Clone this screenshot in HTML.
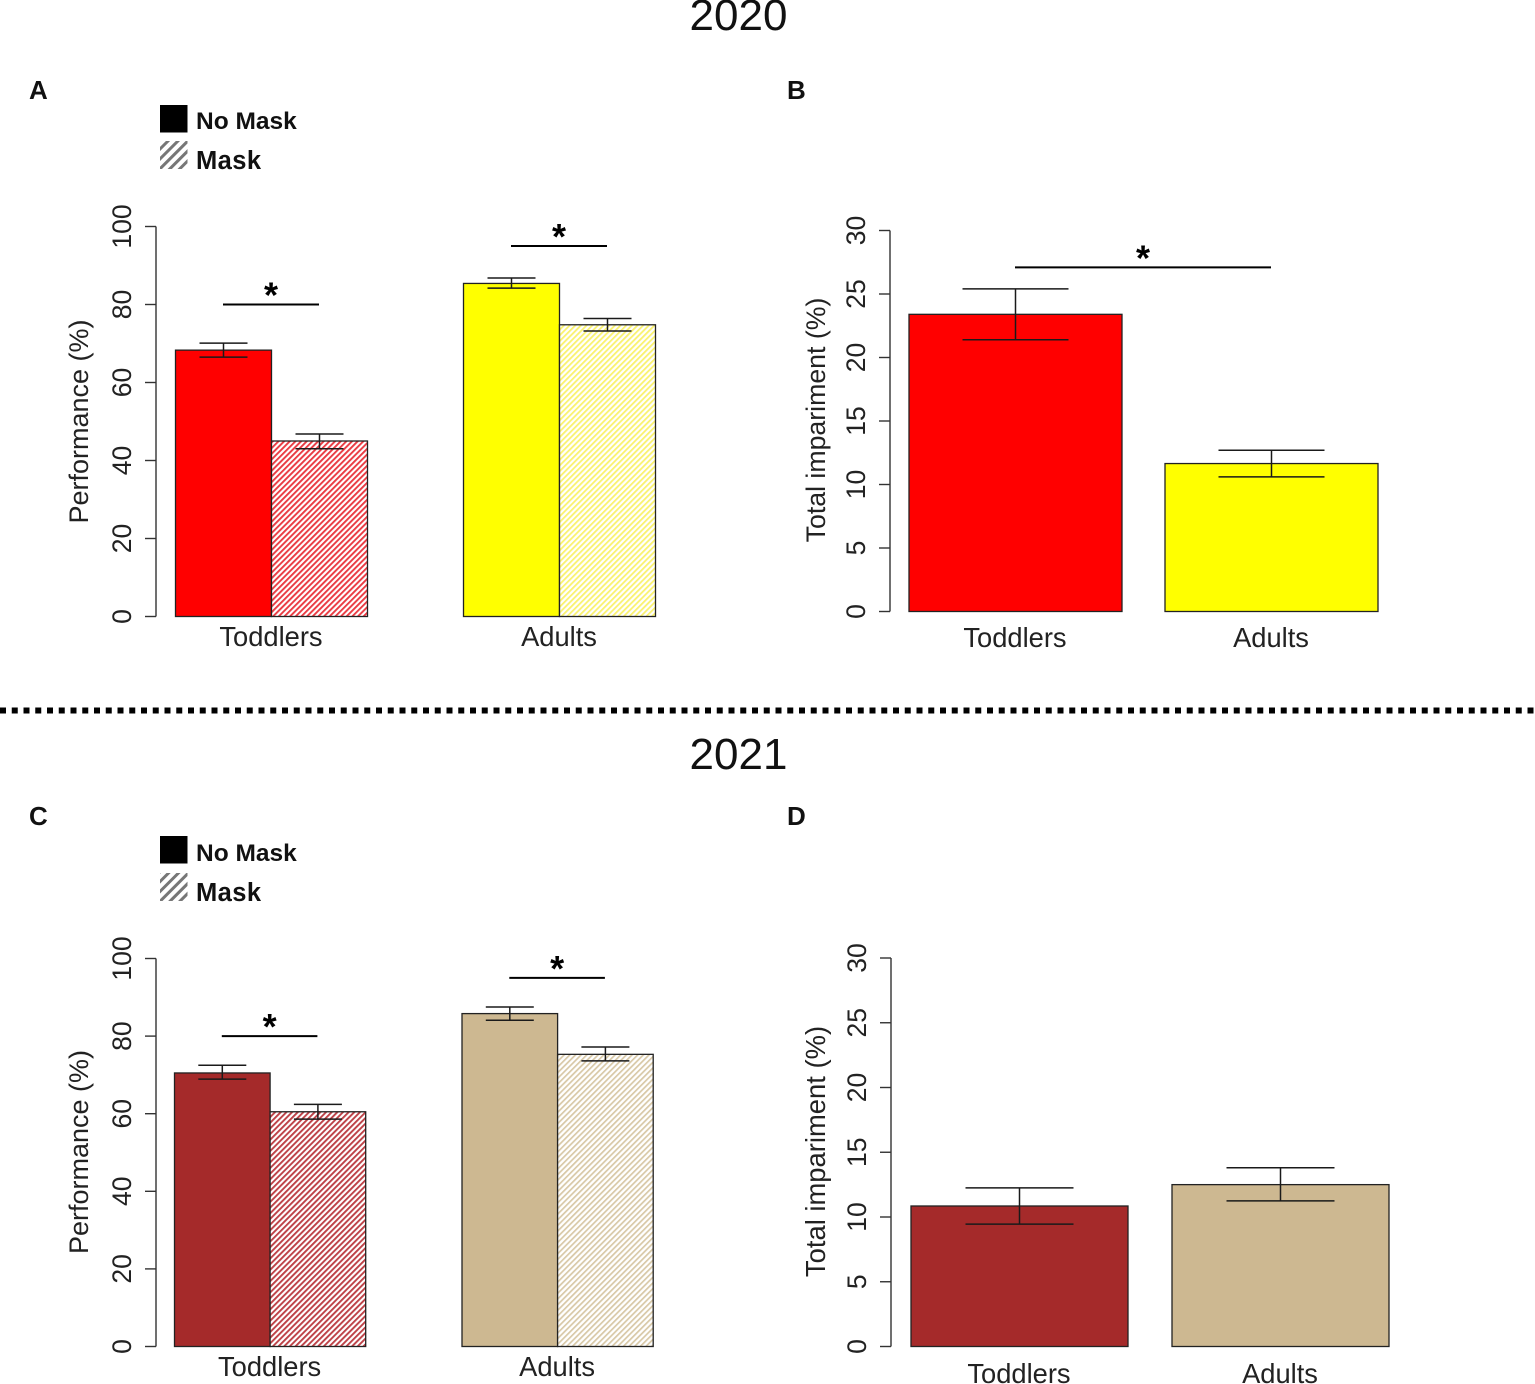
<!DOCTYPE html>
<html>
<head>
<meta charset="utf-8">
<title>Performance and total impairment, 2020 and 2021</title>
<style>
html,body{margin:0;padding:0;background:#fff;}
svg{display:block;font-family:"Liberation Sans",sans-serif;}
</style>
</head>
<body>
<svg id="fig" xmlns="http://www.w3.org/2000/svg" width="1535" height="1384" viewBox="0 0 1535 1384">
  <defs>
    <pattern id="hatch-red" patternUnits="userSpaceOnUse" width="4" height="4" patternTransform="rotate(45)"><rect width="4" height="4" fill="#fff"/><rect width="1.9" height="4" fill="#ea3a42"/></pattern>
    <pattern id="hatch-yellow" patternUnits="userSpaceOnUse" width="4" height="4" patternTransform="rotate(45)"><rect width="4" height="4" fill="#fff"/><rect width="1.8" height="4" fill="#faf26e"/></pattern>
    <pattern id="hatch-brown" patternUnits="userSpaceOnUse" width="4" height="4" patternTransform="rotate(45)"><rect width="4" height="4" fill="#fff"/><rect width="1.9" height="4" fill="#bd4046"/></pattern>
    <pattern id="hatch-tan" patternUnits="userSpaceOnUse" width="4" height="4" patternTransform="rotate(45)"><rect width="4" height="4" fill="#fff"/><rect width="1.7" height="4" fill="#d8c8a6"/></pattern>
    <pattern id="hatch-grey" patternUnits="userSpaceOnUse" width="7" height="7" patternTransform="rotate(45)"><rect width="7" height="7" fill="#fff"/><rect width="3" height="7" fill="#777"/></pattern>
  </defs>

  <text x="738.5" y="30" font-size="44" text-anchor="middle" fill="#111">2020</text>
  <text x="738.5" y="769" font-size="44" text-anchor="middle" fill="#111">2021</text>

  <line x1="0" y1="710.5" x2="1535" y2="710.5" stroke="#000" stroke-width="6" stroke-dasharray="6 5.75"/>

  <text x="29" y="99" font-size="26" font-weight="bold" fill="#111">A</text>
  <text x="787" y="99" font-size="26" font-weight="bold" fill="#111">B</text>
  <text x="29" y="825" font-size="26" font-weight="bold" fill="#111">C</text>
  <text x="787" y="825" font-size="26" font-weight="bold" fill="#111">D</text>

  <g>
    <rect x="160" y="105" width="27.5" height="27.5" fill="#000"/>
    <text x="196" y="129" font-size="24.5" font-weight="bold" fill="#111">No Mask</text>
    <rect x="160" y="141" width="27.5" height="28" fill="url(#hatch-grey)"/>
    <text x="196" y="169" font-size="25.5" font-weight="bold" fill="#111" textLength="65">Mask</text>
  </g>
  <g>
    <rect x="160" y="836" width="27.5" height="27.5" fill="#000"/>
    <text x="196" y="861" font-size="24.5" font-weight="bold" fill="#111">No Mask</text>
    <rect x="160" y="873" width="27.5" height="28" fill="url(#hatch-grey)"/>
    <text x="196" y="901" font-size="25.5" font-weight="bold" fill="#111" textLength="65">Mask</text>
  </g>
</svg>

<script>
// ---- Panel A data
var aCategories = ['Toddlers', 'Adults'];
var aNoMask = [68.3, 85.4];
var aNoMaskHigh = [70.1, 86.8];
var aNoMaskLow = [66.5, 84.2];
var aMask = [45, 74.8];
var aMaskHigh = [46.8, 76.4];
var aMaskLow = [43, 73.2];
var aTicks = ['0', '20', '40', '60', '80', '100'];
var aSigLevels = [80, 95];

// ---- Panel B data
var bCategories = ['Toddlers', 'Adults'];
var bValues = [23.4, 11.65];
var bHigh = [25.4, 12.7];
var bLow = [21.4, 10.6];
var bTicks = ['0', '5', '10', '15', '20', '25', '30'];
var bSigLevel = 27.1;

// ---- Panel C data
var cCategories = ['Toddlers', 'Adults'];
var cNoMask = [70.5, 85.8];
var cNoMaskHigh = [72.5, 87.5];
var cNoMaskLow = [68.9, 84.1];
var cMask = [60.5, 75.3];
var cMaskHigh = [62.4, 77.2];
var cMaskLow = [58.6, 73.6];
var cTicks = ['0', '20', '40', '60', '80', '100'];
var cSigLevels = [80, 95];

// ---- Panel D data
var dCategories = ['Toddlers', 'Adults'];
var dValues = [10.85, 12.5];
var dHigh = [12.25, 13.8];
var dLow = [9.45, 11.25];
var dTicks = ['0', '5', '10', '15', '20', '25', '30'];

var NS = 'http://www.w3.org/2000/svg';
var svg = document.getElementById('fig');

function make(tag, attrs, parent) {
  var el = document.createElementNS(NS, tag);
  for (var k in attrs) { el.setAttribute(k, attrs[k]); }
  parent.appendChild(el);
  return el;
}

function yAxisFn(y0, yTop, maxVal) {
  return function (v) { return y0 - (v / maxVal) * (y0 - yTop); };
}

function drawAxis(g, cfg, ticks, y) {
  var maxVal = parseFloat(ticks[ticks.length - 1]);
  var minVal = parseFloat(ticks[0]);
  var axis = make('line', { x1: cfg.axisX, x2: cfg.axisX, y1: y(minVal), y2: y(maxVal), stroke: '#333', 'stroke-width': 1.4 }, g);
  
  
  ticks.forEach(function (t) {
    var v = parseFloat(t);
    var tick = make('line', { x1: cfg.axisX - 11, x2: cfg.axisX, y1: y(v), y2: y(v), stroke: '#333', 'stroke-width': 1.4 }, g);
    
    
    var lx = cfg.axisX - 25;
    var label = make('text', { x: lx, y: y(v), 'font-size': 26.5, fill: '#222', 'text-anchor': 'middle', transform: 'rotate(-90 ' + lx + ' ' + y(v) + ')' }, g);
    
    
    label.textContent = t;
  });
  var tx = cfg.titleX;
  var ty = cfg.titleY;
  var title = make('text', { x: tx, y: ty, 'font-size': cfg.titleSize, fill: '#222', 'text-anchor': 'middle', transform: 'rotate(-90 ' + tx + ' ' + ty + ')' }, g);
  
  
  title.textContent = cfg.title;
}

function drawBar(g, x, w, val, y, fill, name) {
  var r = make('rect', { x: x, y: y(val), width: w, height: y(0) - y(val), fill: fill, stroke: '#222', 'stroke-width': 1.3 }, g);
  
  
}

function drawError(g, cx, capHalf, hi, lo, y) {
  var e = make('g', { stroke: '#1a1a1a', 'stroke-width': 1.5 }, g);
  
  
  make('line', { x1: cx, x2: cx, y1: y(hi), y2: y(lo) }, e);
  make('line', { x1: cx - capHalf, x2: cx + capHalf, y1: y(hi), y2: y(hi) }, e);
  make('line', { x1: cx - capHalf, x2: cx + capHalf, y1: y(lo), y2: y(lo) }, e);
}

function drawSig(g, x1, x2, yy) {
  var l = make('line', { x1: x1, x2: x2, y1: yy, y2: yy, stroke: '#000', 'stroke-width': 2 }, g);
  
  
  var s = make('text', { x: (x1 + x2) / 2, y: yy + 3, 'font-size': 36, 'font-weight': 'bold', 'text-anchor': 'middle', fill: '#000' }, g);
  
  
  s.textContent = '*';
}

function drawCatLabel(g, text, x, yy) {
  var t = make('text', { x: x, y: yy, 'font-size': 27.3, 'text-anchor': 'middle', fill: '#222' }, g);
  
  
  t.textContent = text;
}

function groupedPanel(name, cfg, cats, nm, nmHi, nmLo, m, mHi, mLo, ticks, sig) {
  var g = make('g', {}, svg);
  
  
  var y = yAxisFn(cfg.y0, cfg.yTop, parseFloat(ticks[ticks.length - 1]));
  drawAxis(g, cfg, ticks, y);
  cats.forEach(function (c, i) {
    var start = cfg.groupStarts[i];
    var w = cfg.barW;
    drawBar(g, start, w, nm[i], y, cfg.solid[i], 'bar-no-mask-' + c.toLowerCase());
    drawBar(g, start + w, w, m[i], y, cfg.hatch[i], 'bar-mask-' + c.toLowerCase());
    drawError(g, start + w / 2, 24, nmHi[i], nmLo[i], y);
    drawError(g, start + w * 1.5, 24, mHi[i], mLo[i], y);
    drawCatLabel(g, c, start + w - 0.5, cfg.catY);
    drawSig(g, start + w / 2 - cfg.sigOffset, start + w * 1.5 - cfg.sigOffset, y(sig[i]));
  });
}

function singlePanel(name, cfg, cats, vals, hi, lo, ticks, sig) {
  var g = make('g', {}, svg);
  
  
  var y = yAxisFn(cfg.y0, cfg.yTop, parseFloat(ticks[ticks.length - 1]));
  drawAxis(g, cfg, ticks, y);
  cats.forEach(function (c, i) {
    var start = cfg.barStarts[i];
    drawBar(g, start, cfg.barW, vals[i], y, cfg.solid[i], 'bar-' + c.toLowerCase());
    drawError(g, start + cfg.barW / 2, cfg.capHalf, hi[i], lo[i], y);
    drawCatLabel(g, c, start + cfg.barW / 2 - 0.5, cfg.catY);
  });
  if (sig !== null) {
    drawSig(g, cfg.barStarts[0] + cfg.barW / 2 - 0.5, cfg.barStarts[1] + cfg.barW / 2 - 0.5, y(sig));
  }
}

groupedPanel('panel-a-chart', {
  axisX: 156, y0: 616.5, yTop: 226.5, titleX: 88, titleY: 421.5, titleSize: 27, title: 'Performance (%)',
  groupStarts: [175.5, 463.5], barW: 96, catY: 646,
  solid: ['#ff0000', '#ffff00'], hatch: ['url(#hatch-red)', 'url(#hatch-yellow)'], sigOffset: 0.5
}, aCategories, aNoMask, aNoMaskHigh, aNoMaskLow, aMask, aMaskHigh, aMaskLow, aTicks, aSigLevels);

singlePanel('panel-b-chart', {
  axisX: 890, y0: 611.5, yTop: 230.5, titleX: 825, titleY: 420, titleSize: 26.7, title: 'Total impariment (%)',
  barStarts: [909, 1165], barW: 213, capHalf: 53, catY: 647,
  solid: ['#ff0000', '#ffff00']
}, bCategories, bValues, bHigh, bLow, bTicks, bSigLevel);

groupedPanel('panel-c-chart', {
  axisX: 156, y0: 1346.5, yTop: 958.5, titleX: 88, titleY: 1152, titleSize: 27, title: 'Performance (%)',
  groupStarts: [174.5, 462], barW: 95.6, catY: 1376,
  solid: ['#a52a2a', '#cdb891'], hatch: ['url(#hatch-brown)', 'url(#hatch-tan)'], sigOffset: 0.5
}, cCategories, cNoMask, cNoMaskHigh, cNoMaskLow, cMask, cMaskHigh, cMaskLow, cTicks, cSigLevels);

singlePanel('panel-d-chart', {
  axisX: 891, y0: 1346.5, yTop: 958, titleX: 825, titleY: 1151.5, titleSize: 27.4, title: 'Total impariment (%)',
  barStarts: [911, 1172], barW: 217, capHalf: 54, catY: 1383,
  solid: ['#a52a2a', '#cdb891']
}, dCategories, dValues, dHigh, dLow, dTicks, null);
</script>
</body>
</html>
